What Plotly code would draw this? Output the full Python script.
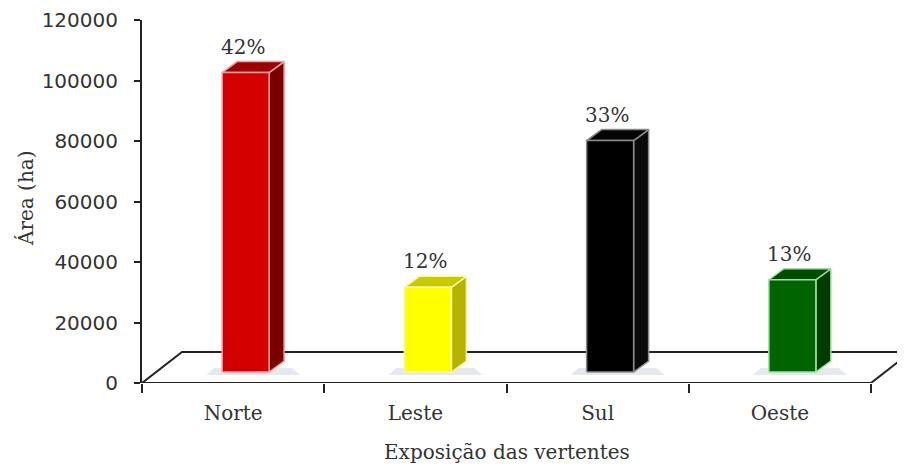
import plotly.graph_objects as go

# ---- data ----
categories = ["Norte", "Leste", "Sul", "Oeste"]
area_ha = [99000, 28000, 76500, 30500]
pct_labels = ["42%", "12%", "33%", "13%"]
y_ticks = [0, 20000, 40000, 60000, 80000, 100000, 120000]

# ---- style ----
front_colors = ["#d40000", "#ffff00", "#000000", "#006400"]
side_colors = ["#7a0000", "#b3b300", "#0a0a0a", "#003c00"]
top_colors = ["#9a0000", "#c9c900", "#050505", "#004c00"]
edge_colors = ["#f4a0a0", "#f7f7a0", "#8a8a8a", "#a0e0a0"]

OFF = 8  # page body margin
W, H = 905 - OFF, 466 - OFF
L, R, T, B = 142 - OFF, 0, 20 - OFF, 83
cat_px = 182.25
plot_w = W - L - R
plot_h = H - T - B
ymax = 120000
ux = 1.0 / cat_px          # data units per pixel (x)
uy = ymax / plot_h         # data units per pixel (y)

floor_dx, floor_dy = 40 * ux, 31 * uy
shift_x, shift_y = 12.5 * ux, 11 * uy
half_w = 23.5 * ux
depth_x, depth_y = 15 * ux, 11 * uy

n = len(categories)
fig = go.Figure()

# floor
fx0, fx1 = -0.5, n - 0.5
fig.add_trace(go.Scatter(
    x=[fx0, fx1, fx1 + floor_dx, fx0 + floor_dx, fx0],
    y=[0, 0, floor_dy, floor_dy, 0],
    mode="lines", fill="toself", fillcolor="white",
    line=dict(color="#222222", width=2), hoverinfo="skip", showlegend=False))

for i, v in enumerate(area_ha):
    cx = i + shift_x
    x0, x1 = cx - half_w, cx + half_w
    yb = shift_y
    yt = yb + v
    # shadow
    fig.add_trace(go.Scatter(
        x=[x0 - 16 * ux, x1 + depth_x + 16 * ux, x1 + depth_x + 8 * ux, x0 - 8 * ux, x0 - 16 * ux],
        y=[yb - 3 * uy, yb - 3 * uy, yb + 4 * uy, yb + 4 * uy, yb - 3 * uy],
        mode="lines", fill="toself", fillcolor="rgba(180,188,208,0.35)",
        line=dict(width=0), hoverinfo="skip", showlegend=False))
    # side face
    fig.add_trace(go.Scatter(
        x=[x1, x1 + depth_x, x1 + depth_x, x1, x1],
        y=[yb, yb + depth_y, yt + depth_y, yt, yb],
        mode="lines", fill="toself", fillcolor=side_colors[i],
        line=dict(color=edge_colors[i], width=1.5), hoverinfo="skip", showlegend=False))
    # top face
    fig.add_trace(go.Scatter(
        x=[x0, x1, x1 + depth_x, x0 + depth_x, x0],
        y=[yt, yt, yt + depth_y, yt + depth_y, yt],
        mode="lines", fill="toself", fillcolor=top_colors[i],
        line=dict(color=edge_colors[i], width=1.5), hoverinfo="skip", showlegend=False))
    # front face
    fig.add_trace(go.Scatter(
        x=[x0, x1, x1, x0, x0],
        y=[yb, yb, yt, yt, yb],
        mode="lines", fill="toself", fillcolor=front_colors[i],
        line=dict(color=edge_colors[i], width=1.5), hoverinfo="skip", showlegend=False))
    fig.add_annotation(x=cx - 3 * ux, y=yt + depth_y, text=pct_labels[i],
                       showarrow=False, xanchor="center", yanchor="bottom", yshift=1,
                       font=dict(family="DejaVu Serif", size=20, color="#333333"))

fig.add_annotation(x=(n - 1) / 2, y=0, xref="x", yref="y", text="Exposição das vertentes",
                   showarrow=False, xanchor="center", yanchor="middle", yshift=-69,
                   font=dict(family="DejaVu Serif", size=20, color="#333333"))
fig.add_annotation(x=(26 - 142) / plot_w, y=(ymax * (383 - 198) / plot_h), xref="paper", yref="y",
                   text="Área (ha)", textangle=-90, showarrow=False,
                   xanchor="center", yanchor="middle",
                   font=dict(family="DejaVu Serif", size=20, color="#333333"))

fig.update_layout(
    width=W, height=H,
    margin=dict(l=L, r=R, t=T, b=B, autoexpand=False),
    paper_bgcolor="white", plot_bgcolor="white",
    showlegend=False,
    xaxis=dict(
        range=[-0.5, -0.5 + plot_w / cat_px],
        tickvals=list(range(n)), ticktext=categories,
        ticks="", showline=False, showgrid=False, zeroline=False,
        tickfont=dict(family="DejaVu Serif", size=20, color="#333333"),
        ticklabelstandoff=16,
        minor=dict(tick0=-0.5, dtick=1, ticks="outside", ticklen=9,
                   tickcolor="#222222", tickwidth=2, showgrid=False),
    ),
    yaxis=dict(
        range=[0, ymax], tickvals=y_ticks, tickformat="d",
        showline=True, linecolor="#222222", linewidth=2,
        ticks="outside", ticklen=6, tickcolor="#222222", tickwidth=2,
        showgrid=False, zeroline=False,
        tickfont=dict(family="DejaVu Sans", size=20, color="#333333"),
        ticklabelstandoff=12,
    ),
)

fig.write_html("out.html")
